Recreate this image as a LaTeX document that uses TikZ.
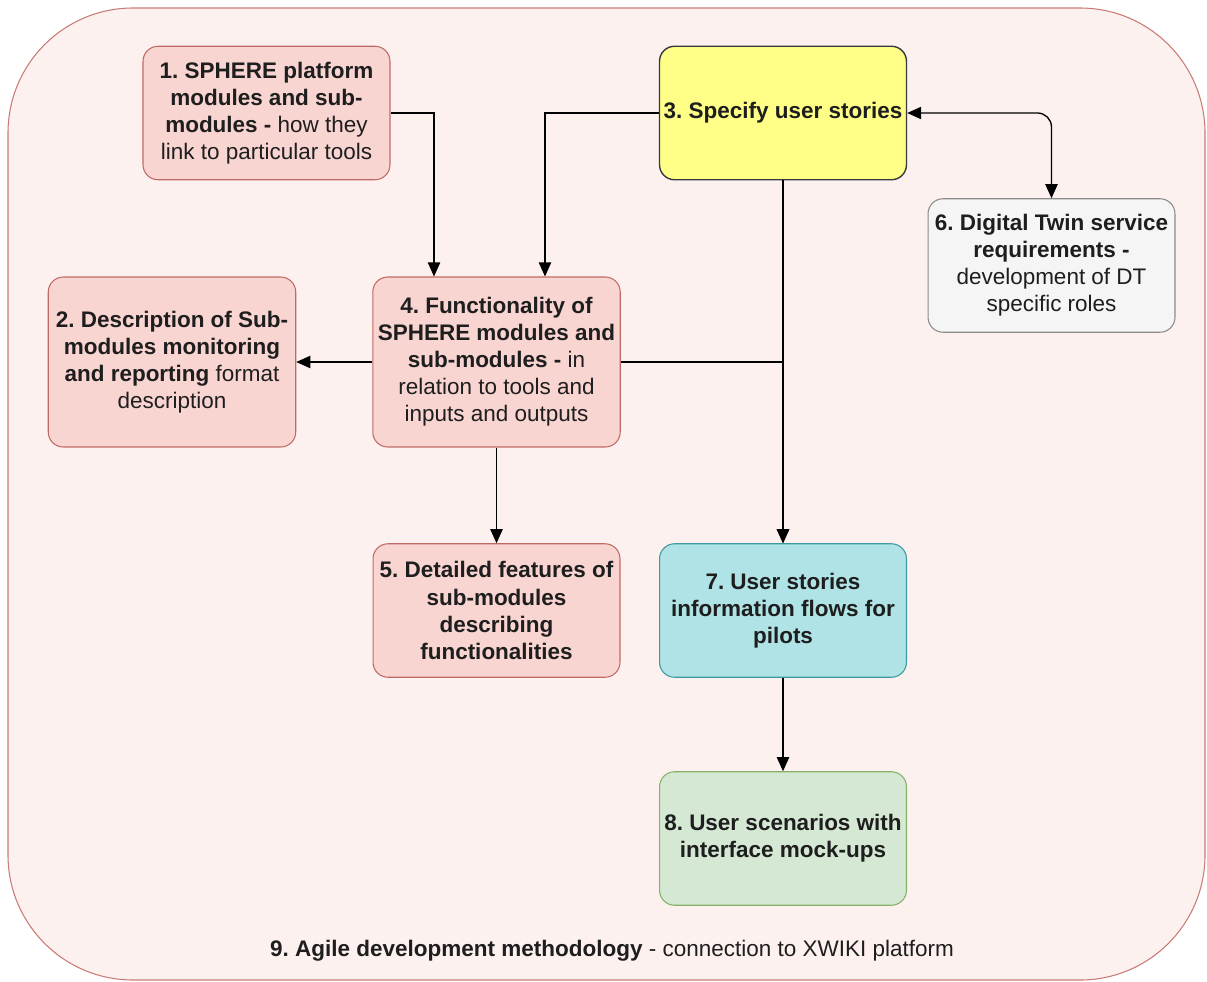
\documentclass[tikz,border=0pt]{standalone}
\usepackage{fontspec}
\setmainfont{Liberation Sans}
\usepackage{color}
\usetikzlibrary{shapes,arrows.meta,positioning,calc}
\frenchspacing

\definecolor{pinkfill}{HTML}{F9D5D2}
\definecolor{pinkline}{HTML}{C06A65}
\definecolor{yellowfill}{HTML}{FFFF88}
\definecolor{yellowline}{HTML}{36393D}
\definecolor{greyfill}{HTML}{F5F5F5}
\definecolor{greyline}{HTML}{8A8A8A}
\definecolor{tealfill}{HTML}{B0E3E6}
\definecolor{tealline}{HTML}{3C9AA0}
\definecolor{greenfill}{HTML}{D5E8D4}
\definecolor{greenline}{HTML}{82B366}
\definecolor{outerfill}{HTML}{FDF1EF}
\definecolor{outerline}{HTML}{C97A75}
\definecolor{txt}{HTML}{1E1E1E}

\tikzset{
  box/.style={rounded corners=0.3cm, align=center, inner sep=1pt, line width=0.6pt,
    text=txt, font=\fontsize{12.8}{15.4}\selectfont},
  smallbox/.style={box, minimum width=4.94cm, minimum height=2.67cm},
  tallbox/.style={box, minimum width=4.95cm, minimum height=3.4cm},
  pinkbox/.style={fill=pinkfill, draw=pinkline},
  flow/.style={-{Triangle[length=8pt,width=7pt]}, line width=0.75pt},
}

\begin{document}
\begin{tikzpicture}[x=0.02cm,y=-0.02cm]
\useasboundingbox (0,0) rectangle (1207,981);
% 9. outer frame
\draw[fill=outerfill, draw=outerline, line width=0.6pt, rounded corners=2.5cm] (8,8) rectangle (1205,980);
\node[text=txt, font=\fontsize{12.8}{15.4}\selectfont] (b9) at (612,951)
  {\textbf{9. Agile development methodology} - connection to XWIKI platform};

% boxes
\node[smallbox, pinkbox] (b1) at (266.5,113)
  {\textbf{1. SPHERE platform}\\ \textbf{modules and sub-}\\ \textbf{modules -} how they\\ link to particular tools};
\node[smallbox, fill=yellowfill, draw=yellowline, line width=0.8pt] (b3) at (783,113)
  {\textbf{3. Specify user stories}};
\node[smallbox, fill=greyfill, draw=greyline] (b6) at (1051.5,265.5)
  {\textbf{6. Digital Twin service}\\ \textbf{requirements -}\\ development of DT\\ specific roles};
\node[tallbox, pinkbox] (b2) at (172,362)
  {\textbf{2. Description of Sub-}\\ \textbf{modules monitoring}\\ \textbf{and reporting} format\\ description};
\node[tallbox, pinkbox] (b4) at (496.5,362)
  {\textbf{4. Functionality of}\\ \textbf{SPHERE modules and}\\ \textbf{sub-modules -} in\\ relation to tools and\\ inputs and outputs};
\node[smallbox, pinkbox] (b5) at (496.5,610.5)
  {\textbf{5. Detailed features of}\\ \textbf{sub-modules}\\ \textbf{describing}\\ \textbf{functionalities}};
\node[smallbox, fill=tealfill, draw=tealline] (b7) at (783,610.5)
  {\textbf{7. User stories}\\ \textbf{information flows for}\\ \textbf{pilots}};
\node[smallbox, fill=greenfill, draw=greenline] (b8) at (783,838.5)
  {\textbf{8. User scenarios with}\\ \textbf{interface mock-ups}};

% connectors
\draw[flow] (b1.east) -| ([xshift=-1.25cm]b4.north);
\draw[flow] (b3.west) -| ([xshift=0.97cm]b4.north);
\draw[flow, {Triangle[length=8pt,width=7pt]}-{Triangle[length=8pt,width=7pt]}, rounded corners=8pt] (b3.east) -| (b6.north);
\draw[flow] (b3.south) -- (b7.north);
\draw[flow] (b4.east) -| (b7.north);
\draw[flow] (b4.west) -- (b2.east);
\draw[flow] (b4.south) -- (b5.north);
\draw[flow] (b7.south) -- (b8.north);
\end{tikzpicture}
\end{document}
